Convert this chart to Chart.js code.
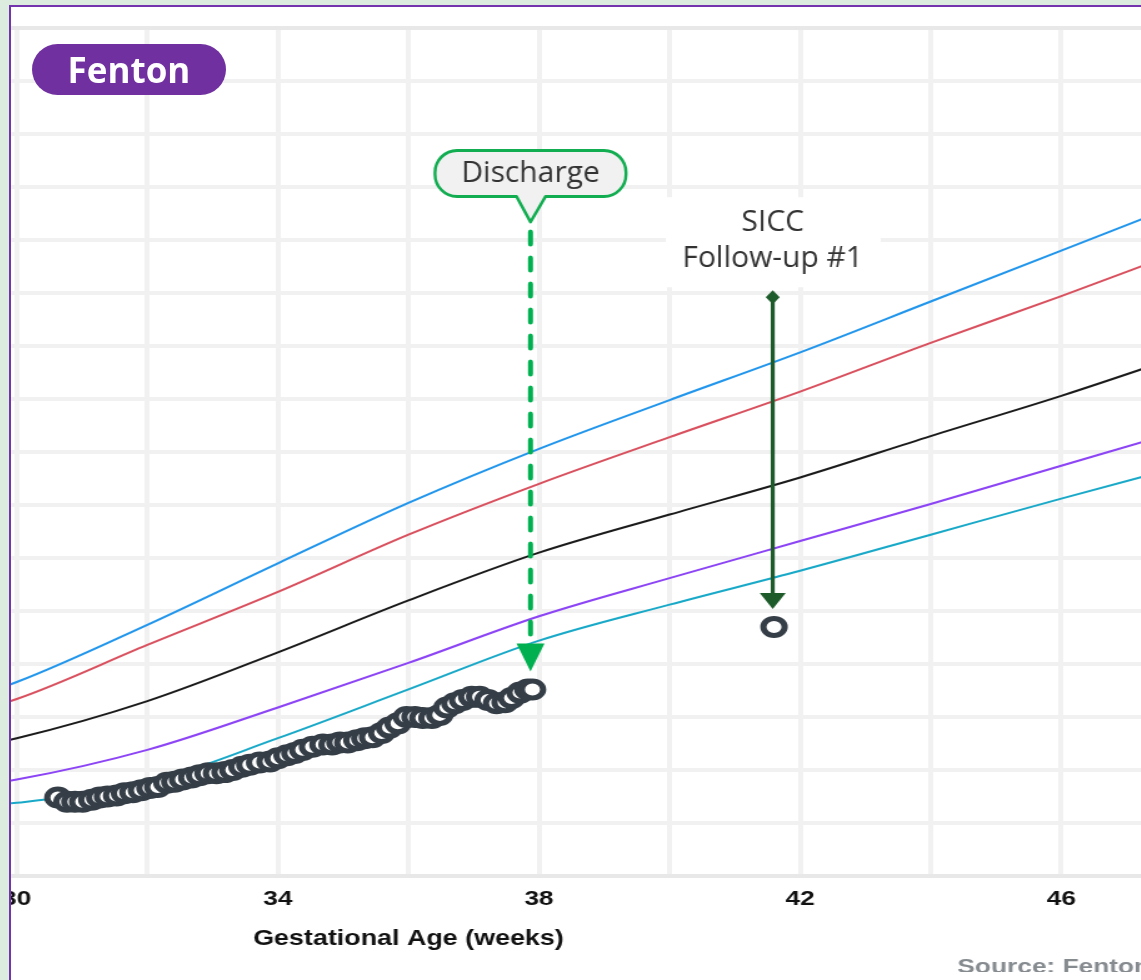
<!DOCTYPE html>
<html>
<head>
<meta charset="utf-8">
<title>Fenton</title>
<script src="https://cdn.jsdelivr.net/npm/chart.js@4.4.1/dist/chart.umd.min.js"></script>
<style>
  html, body { margin: 0; padding: 0; width: 1141px; height: 980px; overflow: hidden; background: #dcecde; }
  #frame { position: absolute; left: 9px; top: 5px; width: 1200px; height: 1000px; background: #fff;
           border-left: 2px solid #7434ad; border-top: 2px solid #7434ad; overflow: hidden; }
  #chart { position: absolute; transform-origin: 0 0; }
  #badge { position: absolute; left: 21px; top: 37px; width: 194px; height: 51px; border-radius: 26px;
           background: #7030a0; color: #fff; font: bold 35px "Open Sans", sans-serif; line-height: 51px;
           text-align: center; z-index: 2; }
</style>
</head>
<body>
<div id="frame">
  <canvas id="chart" width="1520" height="1060"></canvas>
  <div id="badge">Fenton</div>
</div>
<script>
// percentile curves (kg) by gestational week
const weeks = [22, 24, 26, 28, 30, 32, 34, 36, 38, 40, 42, 44, 46, 48, 50];
const p97 = [0.72, 0.95, 1.20, 1.42, 1.83, 2.37, 2.95, 3.52, 4.03, 4.49, 4.94, 5.42, 5.90, 6.38, 6.84];
const p90 = [0.62, 0.82, 1.05, 1.33, 1.67, 2.18, 2.68, 3.22, 3.70, 4.14, 4.57, 5.03, 5.47, 5.93, 6.38];
const p50 = [0.50, 0.66, 0.85, 1.06, 1.30, 1.65, 2.11, 2.60, 3.05, 3.41, 3.76, 4.15, 4.53, 4.94, 5.35];
const p10 = [0.38, 0.50, 0.62, 0.74, 0.91, 1.19, 1.59, 2.01, 2.45, 2.81, 3.16, 3.51, 3.87, 4.23, 4.58];
const p3  = [0.33, 0.42, 0.52, 0.60, 0.69, 0.88, 1.30, 1.76, 2.22, 2.56, 2.88, 3.22, 3.56, 3.89, 4.22];

// patient weights
const patientWeeks = [30.63, 30.77, 30.89, 31.01, 31.15, 31.27, 31.39, 31.53, 31.65, 31.78,
  31.91, 32.04, 32.16, 32.30, 32.42, 32.54, 32.68, 32.80, 32.93, 33.06,
  33.19, 33.31, 33.45, 33.57, 33.72, 33.88, 34.00, 34.14, 34.26, 34.38,
  34.53, 34.69, 34.83, 34.95, 35.07, 35.21, 35.33, 35.45, 35.59, 35.71,
  35.84, 35.97, 36.10, 36.22, 36.36, 36.48, 36.59, 36.71, 36.83, 36.97,
  37.09, 37.22, 37.35, 37.48, 37.58, 37.71, 37.83, 37.90];
const patientKg = [0.74, 0.70, 0.70, 0.70, 0.72, 0.74, 0.75, 0.76, 0.78, 0.79,
  0.81, 0.83, 0.84, 0.88, 0.89, 0.91, 0.93, 0.95, 0.97, 0.97,
  0.98, 1.00, 1.03, 1.05, 1.07, 1.08, 1.11, 1.14, 1.16, 1.19,
  1.22, 1.24, 1.24, 1.26, 1.26, 1.28, 1.30, 1.31, 1.35, 1.40,
  1.44, 1.50, 1.50, 1.49, 1.49, 1.52, 1.59, 1.63, 1.66, 1.69,
  1.69, 1.66, 1.63, 1.64, 1.68, 1.73, 1.76, 1.76];
const followUpWeeks = [41.6];
const followUpKg = [2.35];

// annotations
const dischargeWeek = 37.87;
const dischargeTopKg = 6.17;
const dischargeTipKg = 1.93;
const siccWeek = 41.58;
const siccTopKg = 5.46;
const siccTipKg = 2.52;
const sourceWeek = 44.41;

// page layout of the cropped view
const STRETCH = 1.25;          // the original canvas is stretched horizontally
const PAGE_X22 = 17 - 8 * 65.28;
const PLOT_W = 28 * 65.28 / STRETCH;
const PLOT_H = 848;
const FRAME_X = 11, FRAME_Y = 7, PLOT_TOP = 28;

const pts = (xs, ys) => xs.map((w, i) => ({ x: w, y: ys[i] }));
const curve = (vals, color) => ({
  data: pts(weeks, vals), borderColor: color, borderWidth: 2, pointRadius: 0,
  cubicInterpolationMode: 'monotone', fill: false
});
const dots = (xs, ys) => ({
  data: pts(xs, ys), showLine: false, pointRadius: 8.5, pointBorderWidth: 5,
  pointBackgroundColor: '#fff', pointBorderColor: '#353e47'
});

const annotate = {
  id: 'annotate',
  afterDatasetsDraw(chart) {
    const { ctx, scales: { x, y }, chartArea } = chart;
    const flat = (week, fn) => {
      ctx.save();
      ctx.translate(x.getPixelForValue(week), 0);
      ctx.scale(1 / STRETCH, 1);
      fn();
      ctx.restore();
    };

    // Discharge
    flat(dischargeWeek, () => {
      const top = y.getPixelForValue(dischargeTopKg);
      const tip = y.getPixelForValue(dischargeTipKg);
      ctx.strokeStyle = '#00b050';
      ctx.lineWidth = 5;
      ctx.lineCap = 'round';
      ctx.setLineDash([12, 14]);
      ctx.beginPath();
      ctx.moveTo(0, top + 10);
      ctx.lineTo(0, tip - 31);
      ctx.stroke();
      ctx.setLineDash([]);
      ctx.fillStyle = '#00b050';
      ctx.beginPath();
      ctx.moveTo(-14, tip - 28);
      ctx.lineTo(14, tip - 28);
      ctx.lineTo(0, tip);
      ctx.closePath();
      ctx.fill();

      const hw = 95.5, bh = 46, r = 22, ph = 25.5;
      const by = top - ph - bh;
      ctx.beginPath();
      ctx.moveTo(-hw + r, by);
      ctx.lineTo(hw - r, by);
      ctx.arcTo(hw, by, hw, by + r, r);
      ctx.lineTo(hw, by + bh - r);
      ctx.arcTo(hw, by + bh, hw - r, by + bh, r);
      ctx.lineTo(15, by + bh);
      ctx.lineTo(0, top);
      ctx.lineTo(-14, by + bh);
      ctx.lineTo(-hw + r, by + bh);
      ctx.arcTo(-hw, by + bh, -hw, by + bh - r, r);
      ctx.lineTo(-hw, by + r);
      ctx.arcTo(-hw, by, -hw + r, by, r);
      ctx.closePath();
      ctx.fillStyle = '#f1f1f1';
      ctx.fill();
      ctx.lineWidth = 3;
      ctx.lineJoin = 'round';
      ctx.strokeStyle = '#11ad50';
      ctx.stroke();
      ctx.fillStyle = '#333';
      ctx.font = '30px "Open Sans", sans-serif';
      ctx.textAlign = 'center';
      ctx.textBaseline = 'middle';
      ctx.fillText('Discharge', 0, by + bh / 2);
    });

    // SICC follow-up
    flat(siccWeek, () => {
      const top = y.getPixelForValue(siccTopKg);
      const tip = y.getPixelForValue(siccTipKg);
      ctx.fillStyle = '#fff';
      ctx.fillRect(-107, top - 100, 215, 90);
      ctx.fillStyle = '#333';
      ctx.font = '30px "Open Sans", sans-serif';
      ctx.textAlign = 'center';
      ctx.textBaseline = 'middle';
      ctx.fillText('SICC', 0, top - 75);
      ctx.fillText('Follow-up #1', 0, top - 39);

      ctx.strokeStyle = '#1e5b2a';
      ctx.fillStyle = '#1e5b2a';
      ctx.lineWidth = 4;
      ctx.beginPath();
      ctx.moveTo(0, top);
      ctx.lineTo(0, tip - 14);
      ctx.stroke();
      ctx.beginPath();
      ctx.moveTo(0, top - 7);
      ctx.lineTo(7, top);
      ctx.lineTo(0, top + 7);
      ctx.lineTo(-7, top);
      ctx.closePath();
      ctx.fill();
      ctx.beginPath();
      ctx.moveTo(-13, tip - 16);
      ctx.lineTo(13, tip - 16);
      ctx.lineTo(0, tip);
      ctx.closePath();
      ctx.fill();
    });

    // source note
    ctx.save();
    ctx.fillStyle = '#868b90';
    ctx.font = 'bold 21px "Liberation Sans", Arial, sans-serif';
    ctx.textAlign = 'left';
    ctx.textBaseline = 'middle';
    ctx.fillText('Source: Fenton', x.getPixelForValue(sourceWeek), chartArea.bottom + 91);
    ctx.restore();
  }
};

const axisFont = { family: '"Liberation Sans", Arial, sans-serif', weight: 'bold' };

const chart = new Chart(document.getElementById('chart'), {
  type: 'line',
  data: {
    datasets: [
      dots(patientWeeks, patientKg),
      dots(followUpWeeks, followUpKg),
      curve(p97, '#2196ec'),
      curve(p90, '#d9505e'),
      curve(p50, '#1b1b1b'),
      curve(p10, '#8c44f5'),
      curve(p3, '#19a9c8')
    ]
  },
  options: {
    responsive: false,
    maintainAspectRatio: false,
    animation: false,
    layout: { padding: { left: 30, right: 30, top: 20, bottom: 20 } },
    plugins: { legend: { display: false }, tooltip: { enabled: false } },
    scales: {
      x: {
        type: 'linear', min: 22, max: 50,
        ticks: {
          stepSize: 2, autoSkip: false, maxRotation: 0, padding: 11, color: '#111',
          font: { ...axisFont, size: 21 },
          callback: (v) => ((v - 22) % 4 === 0 ? String(v) : '')
        },
        grid: { color: '#f1f1f1', lineWidth: 4, drawTicks: false },
        border: { color: '#e8e8e8', width: 4 },
        title: {
          display: true, text: 'Gestational Age (weeks)', color: '#111',
          font: { ...axisFont, size: 21.5 }, padding: { top: 3, bottom: 0 }
        }
      },
      y: {
        min: 0, max: 8,
        ticks: { stepSize: 0.5, display: false },
        grid: {
          color: (c) => (c.tick && c.tick.value === 8 ? '#e8e8e8' : '#f1f1f1'),
          lineWidth: 4, drawTicks: false
        },
        border: { display: false }
      }
    }
  },
  plugins: [annotate]
});

// size the plot to the cropped view, then place the canvas
let a = chart.chartArea;
chart.resize(chart.width + (PLOT_W - (a.right - a.left)), chart.height + (PLOT_H - (a.bottom - a.top)));
a = chart.chartArea;
const cv = chart.canvas;
cv.style.transform = `scaleX(${STRETCH})`;
cv.style.left = (PAGE_X22 - FRAME_X - STRETCH * a.left) + 'px';
cv.style.top = (PLOT_TOP - FRAME_Y - a.top) + 'px';
</script>
</body>
</html>
